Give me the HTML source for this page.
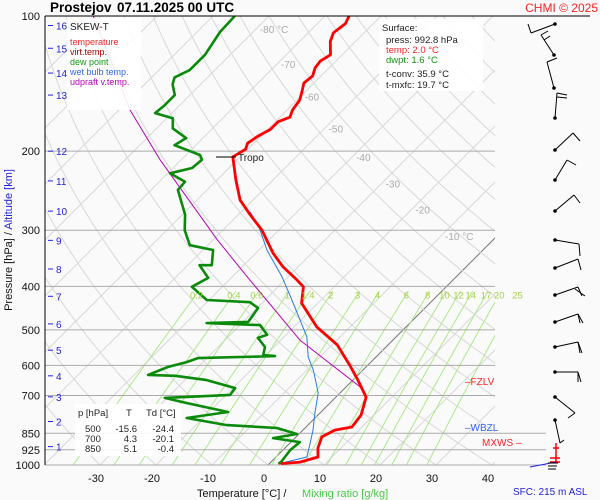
<!DOCTYPE html>
<html><head><meta charset="utf-8"><style>
html,body{margin:0;padding:0;background:#fafafa;}
svg{display:block;font-family:"Liberation Sans",sans-serif;}
</style></head><body>
<svg id="c" width="600" height="500" viewBox="0 0 600 500" xmlns="http://www.w3.org/2000/svg">
<rect width="600" height="500" fill="#fafafa"/>
<defs><clipPath id="pc"><rect x="45" y="16" width="450" height="449"/></clipPath></defs>
<g id="grid" clip-path="url(#pc)"></g>
<g id="mix"></g>
<g id="iso"></g>
<g id="series" clip-path="url(#pc)"></g>
<g id="labels"></g>
<g id="barbs"></g>

<text x="50" y="12" font-size="13.5" font-weight="bold">Prostejov</text>
<text x="117" y="12" font-size="13.5" font-weight="bold">07.11.2025 00 UTC</text>
<text x="598" y="12" font-size="12" fill="#f22" text-anchor="end">CHMI © 2025</text>
<line x1="45" y1="16" x2="590" y2="16" stroke="#000" stroke-width="1"/>
<line x1="45" y1="16" x2="45" y2="465" stroke="#000" stroke-width="1"/>

<g>
<rect x="67" y="18" width="74" height="92" fill="#fff" opacity="0.9"/>
<text x="70" y="30" font-size="10" fill="#222">SKEW-T</text>
<text x="70" y="45" font-size="9" fill="#f22">temperature</text>
<text x="70" y="55" font-size="9" fill="#a00">virt.temp.</text>
<text x="70" y="65" font-size="9" fill="#191">dew point</text>
<text x="70" y="75" font-size="9" fill="#36e">wet bulb temp.</text>
<text x="70" y="85" font-size="9" fill="#b0b">udpraft v.temp.</text>
</g>

<g>
<rect x="379" y="19" width="104" height="72" fill="#fff" opacity="0.9"/>
<text x="382" y="31" font-size="9.5" fill="#222">Surface:</text>
<text x="386" y="43" font-size="9.5" fill="#222">press: 992.8 hPa</text>
<text x="386" y="53" font-size="9.5" fill="#f22">temp: 2.0 °C</text>
<text x="386" y="63" font-size="9.5" fill="#191">dwpt: 1.6 °C</text>
<text x="386" y="77" font-size="9.5" fill="#222">t-conv: 35.9 °C</text>
<text x="386" y="88" font-size="9.5" fill="#222">t-mxfc: 19.7 °C</text>
</g>

<g>
<rect x="75" y="404" width="106" height="52" fill="#fff" opacity="0.9"/>
<text x="78" y="416" font-size="9.5" fill="#222">p [hPa]</text>
<text x="126" y="416" font-size="9.5" fill="#222">T</text>
<text x="146" y="416" font-size="9.5" fill="#222">Td [°C]</text>
<text x="85" y="432" font-size="9.5" fill="#222">500</text><text x="137" y="432" font-size="9.5" fill="#222" text-anchor="end">-15.6</text><text x="174" y="432" font-size="9.5" fill="#222" text-anchor="end">-24.4</text>
<text x="85" y="442" font-size="9.5" fill="#222">700</text><text x="137" y="442" font-size="9.5" fill="#222" text-anchor="end">4.3</text><text x="174" y="442" font-size="9.5" fill="#222" text-anchor="end">-20.1</text>
<text x="85" y="452" font-size="9.5" fill="#222">850</text><text x="137" y="452" font-size="9.5" fill="#222" text-anchor="end">5.1</text><text x="174" y="452" font-size="9.5" fill="#222" text-anchor="end">-0.4</text>
</g>

<text transform="translate(12,240) rotate(-90)" font-size="11" text-anchor="middle"><tspan fill="#111">Pressure [hPa] / </tspan><tspan fill="#22d">Altitude [km]</tspan></text>
<text x="197" y="497" font-size="11" fill="#111">Temperature [°C]  /</text>
<text x="302" y="497" font-size="11" fill="#4c4">Mixing ratio [g/kg]</text>
<text x="513" y="495" font-size="10" fill="#22d">SFC: 215 m ASL</text>

<line x1="216" y1="157" x2="236" y2="157" stroke="#000" stroke-width="1"/>
<text x="238" y="161" font-size="10" fill="#222">Tropo</text>
<text x="465" y="385" font-size="10" fill="#f22">–FZLV</text>
<text x="465" y="431" font-size="10" fill="#36e">–WBZL</text>
<text x="482" y="446" font-size="10" fill="#f22">MXWS –</text>
</svg>
<script>
// ---------- data ----------
const tempP = [100,104,109,114,122,126,130.5,136,141,148,154,162,168,172,179,185,192,198,206,232,257,277,300,337,362,387,401,436,493,540,602,647,706,774,823,836,866,917,960,985,993];
const tempT = [-65.7,-65.0,-65.5,-64.5,-62.1,-62.8,-62.5,-61.5,-61.8,-60.5,-59.5,-59.0,-58.2,-59.5,-59.5,-60.5,-61.1,-60.4,-61.3,-56.6,-52.3,-47.9,-43.0,-37.0,-32.7,-27.9,-25.5,-22.9,-15.9,-9.1,-3.0,0.9,5.4,7.7,8.2,5.7,4.6,5.9,7.5,5.2,2.0];
const dewP = [100,108.5,122,132,137,142,150,158,164.5,169,178,187,194,204,209,218,224,234,244,277,300,324,332,359,359,383,401,429,434,447,480,483,488,513,521,546,569,572,578,590,605,630,633,647,674,698,709,728,762,786,815,827,853,871,889,926,985,993];
const dewT = [-86.1,-85.9,-84.5,-84.5,-85.9,-85.0,-82.7,-82.7,-83.0,-78.9,-77.1,-73.0,-73.8,-67.5,-66.3,-66.6,-69.6,-65.4,-65.2,-59.5,-56.8,-53.2,-48.2,-45.7,-47.9,-44.1,-45.4,-40.4,-32.3,-29.8,-29.1,-36.3,-26.4,-23.4,-24.5,-21.6,-20.5,-18.2,-31.6,-32.9,-35.4,-37.5,-32.5,-26.1,-19.6,-19.3,-30.4,-25.5,-16.6,-22.9,-14.5,-5.0,-0.4,-3.9,1.6,1.3,1.8,1.6];
const wetP = [273,297,332,381,429,493,519,575,614,691,766,836,903,960,993];
const wetT = [-48.4,-43.8,-38.6,-31.1,-25.2,-18.4,-15.9,-12.1,-8.9,-3.9,-0.9,1.8,3.9,5.5,1.8];
const updP = [100,162,209,315,387,527,670,706];
const updT = [-111.4,-88.0,-73.8,-49.3,-36.3,-16.6,2.5,5.4];
const isobarLevels = [200,300,400,500,600,700,850,925,1000];
const pressLabels = [100,200,300,400,500,600,700,850,925,1000];
const kmLabels = [16,15,14,13,12,11,10,9,8,7,6,5,4,3,2,1];
const kmP = [105,118,134,150,200,233,272,316,366,421,485,555,633,705,800,910];
const tempTicks = [-30,-20,-10,0,10,20,30,40];
const mixRatios = [0.2,0.4,0.6,1,1.4,2,3,4,6,8,10,12,14,17,20,25];
const isoLabels = [-80,-70,-60,-50,-40,-30,-20,-10];
const isoLabelP = [107,128,151,178,206,236,270,309];

// ---------- axes ----------
const X0 = 268, XS = 5.6, YB = 465, YK = 195;
function yP(p){ return YB - YK*Math.log(1000/p); }
function xT(t,p){ return X0 + XS*t + (YB - yP(p)); }
const NS = 'http://www.w3.org/2000/svg';
function mk(tag, attrs, parent){ const e=document.createElementNS(NS,tag); for(const k in attrs) e.setAttribute(k,attrs[k]); parent.appendChild(e); return e; }
const grid=document.getElementById('grid'), mix=document.getElementById('mix'), iso=document.getElementById('iso'), series=document.getElementById('series'), labels=document.getElementById('labels'), barbs=document.getElementById('barbs');

// isotherms
for(let t=-150;t<=50;t+=10){
  const l=mk('line',{x1:xT(t,1000),y1:yP(1000),x2:xT(t,100),y2:yP(100),stroke:t===0?'#777':'#d8d8d8','stroke-width':1},grid);
  
  
}
// dry adiabats
for(let th=-60;th<=220;th+=10){
  let d='';
  for(let p=1000;p>=100;p-=10){ const T=(th+273.15)*Math.pow(p/1000,0.286)-273.15; d+=(p===1000?'M':'L')+xT(T,p).toFixed(1)+','+yP(p).toFixed(1); }
  const a=mk('path',{d:d,fill:'none',stroke:'#d8d8d8','stroke-width':1},grid);
  
  
}
// mixing ratio lines
function tdFromW(w,p){ const e=w*p/(622+w); const g=Math.log(e/6.112); return 243.5*g/(17.67-g); }
mixRatios.forEach(w=>{
  const pTop=410; let d='';
  for(let p=1000;p>=pTop;p-=10){ const x=xT(tdFromW(w,p),p); d+=(p===1000?'M':'L')+x.toFixed(1)+','+yP(p).toFixed(1); }
  const m=mk('path',{d:d,fill:'none',stroke:'#aee88a','stroke-width':1,'clip-path':'url(#pc)'},mix);
  
  
  const tl=mk('text',{x:xT(tdFromW(w,pTop),pTop)-2,y:yP(400)+12,'font-size':9.5,fill:'#a5d045','text-anchor':'middle'},labels);
  tl.textContent=String(w);
  
  
});
// isobars
isobarLevels.forEach(p=>{
  const x2=(p>=850)?546:495;
  const l=mk('line',{x1:45,y1:yP(p),x2:x2,y2:yP(p),stroke:'#aaa','stroke-width':1},iso);
  
  
});
pressLabels.forEach(p=>{
  const t=mk('text',{x:40,y:yP(p)+4,'font-size':11,fill:'#111','text-anchor':'end'},labels);
  t.textContent=String(p);
  
  
});
kmLabels.forEach((k,i)=>{
  const y=yP(kmP[i]);
  const l=mk('line',{x1:48,y1:y,x2:53,y2:y,stroke:'#22d','stroke-width':1},labels);
  
  
  const t=mk('text',{x:56,y:y+4,'font-size':10,fill:'#22d'},labels);
  t.textContent=String(k);
  
  
});
tempTicks.forEach(t=>{
  const e=mk('text',{x:X0-4+XS*t,y:482,'font-size':11,fill:'#111','text-anchor':'middle'},labels);
  e.textContent=String(t);
  
  
});
isoLabels.forEach((t,i)=>{
  const p=isoLabelP[i];
  const e=mk('text',{x:xT(t,p)+4,y:yP(p)+4,'font-size':10,fill:'#aaa'},labels);
  e.textContent=(t===-80||t===-10)?t+' °C':String(t);
  
  
});
// series
function line(P,T,color,w,name){
  let d=''; P.forEach((p,i)=>{ d+=(i?'L':'M')+xT(T[i],p).toFixed(1)+','+yP(p).toFixed(1); });
  const e=mk('path',{d:d,fill:'none',stroke:color,'stroke-width':w,'stroke-linejoin':'round'},series);
  
  
}
line(updP,updT,'#b0b',1,'updraft-line');
line(wetP,wetT,'#2a7be8',1,'wet-bulb-line');
line(dewP,dewT,'#0a8a0a',2.6,'dew-point-line');
line(tempP,tempT,'#f00',2.8,'temperature-line');

// wind barbs (shaft + feathers)
const barbShafts=[[555,24,531,33],[554,55,541,35],[554,88,547,62],[555,118,557,93],[555,150,573,133],[555,180,567,160],[555,211,574,195],[555,240,579,244],[555,268,578,259],[555,295,578,287],[555,322,578,314],[555,347,578,342],[555,372,578,372],[555,397,575,413],[555,420,560,443]];
const barbFeathers=[[531,33,528,24],[541,35,548,31],[544,40,550,36],[547,62,557,58],[557,93,567,95],[557,97,567,98],[573,133,580,141],[567,160,576,165],[574,195,580,203],[579,244,580,256],[578,259,581,270],[578,287,582,296],[575,289,585,296],[578,314,580,323],[578,314,583,323],[578,342,580,353],[578,342,582,353],[578,372,578,382],[578,372,581,382],[575,413,568,418],[560,443,564,440]];
barbShafts.forEach(s=>{
  mk('circle',{cx:s[0],cy:s[1],r:1.8,fill:'#000'},barbs);
  const l=mk('line',{x1:s[0],y1:s[1],x2:s[2],y2:s[3],stroke:'#000','stroke-width':1},barbs);
  
  
});
barbFeathers.forEach(s=>{ mk('line',{x1:s[0],y1:s[1],x2:s[2],y2:s[3],stroke:'#000','stroke-width':1},barbs); });
mk('path',{d:'M556,443 L556,462 M553,448 L559,448 M550,458 L560,458 M550,462 L560,462',stroke:'#f00','stroke-width':1.5,fill:'none'},barbs);
mk('path',{d:'M530,467 L556,462',stroke:'#22d','stroke-width':1,fill:'none'},barbs);
mk('path',{d:'M548,463 L558,463 M548,466 L557,466 M548,469 L556,469',stroke:'#000','stroke-width':1,fill:'none'},barbs);
</script>
</body></html>
